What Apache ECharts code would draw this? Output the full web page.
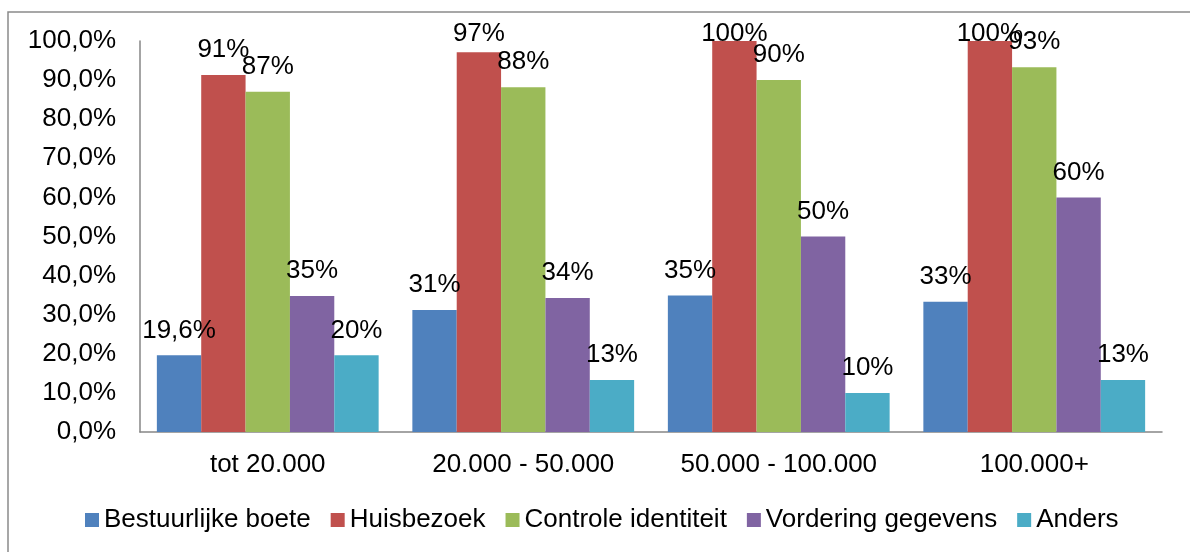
<!DOCTYPE html>
<html>
<head>
<meta charset="utf-8">
<style>
  html, body { margin: 0; padding: 0; background: #fff; }
  #chart { width: 1190px; height: 552px; }
</style>
<script src="https://cdn.jsdelivr.net/npm/echarts@6/dist/echarts.min.js"></script>
</head>
<body>
<div id="chart"></div>
<script>
var categories = ['tot 20.000', '20.000 - 50.000', '50.000 - 100.000', '100.000+'];
var seriesNames = ['Bestuurlijke boete', 'Huisbezoek', 'Controle identiteit', 'Vordering gegevens', 'Anders'];
var bestuurlijkeBoete = [19.6, 31.2, 34.9, 33.3];
var huisbezoek = [91.3, 97.1, 100, 100];
var controleIdentiteit = [87.0, 88.2, 90.0, 93.3];
var vorderingGegevens = [34.8, 34.3, 50.0, 60.0];
var anders = [19.6, 13.3, 10.0, 13.3];
var labelsBestuurlijke = ['19,6%', '31%', '35%', '33%'];
var labelsHuisbezoek = ['91%', '97%', '100%', '100%'];
var labelsControle = ['87%', '88%', '90%', '93%'];
var labelsVordering = ['35%', '34%', '50%', '60%'];
var labelsAnders = ['20%', '13%', '10%', '13%'];
var yTickValues = [0, 10, 20, 30, 40, 50, 60, 70, 80, 90, 100];

var colors = ['#4F81BD', '#C0504D', '#9BBB59', '#8064A2', '#4BACC6'];
var allValues = [bestuurlijkeBoete, huisbezoek, controleIdentiteit, vorderingGegevens, anders];
var allLabels = [labelsBestuurlijke, labelsHuisbezoek, labelsControle, labelsVordering, labelsAnders];
var FONT = '"Liberation Sans", Arial, sans-serif';
var MIN_LABEL_TOP = 21;

var series = seriesNames.map(function (name, i) {
  return {
    name: name,
    type: 'bar',
    data: allValues[i],
    barGap: '0%',
    barCategoryGap: '13.2%',
    itemStyle: { color: colors[i] },
    label: {
      show: true,
      position: 'top',
      distance: 12,
      color: '#000',
      fontFamily: FONT,
      fontSize: 26,
      formatter: function (p) { return allLabels[i][p.dataIndex]; }
    },
    labelLayout: function (p) {
      var r = p.labelRect;
      if (r.y < MIN_LABEL_TOP) { return { dy: MIN_LABEL_TOP - r.y }; }
      return {};
    }
  };
});

var chart = echarts.init(document.getElementById('chart'), null, { renderer: 'canvas' });
chart.setOption({
  animation: false,
  backgroundColor: '#fff',
  color: colors,
  graphic: [{
    type: 'rect',
    shape: { x: 8, y: 12, width: 1300, height: 700 },
    style: { fill: 'none', stroke: '#8a8a8a', lineWidth: 1.5 },
    silent: true,
    z: -10
  }],
  grid: { left: 140, top: 41, right: 28, bottom: 120, containLabel: false },
  legend: {
    data: seriesNames,
    left: 80,
    top: 502,
    itemWidth: 14,
    itemHeight: 14,
    itemGap: 20,
    icon: 'rect',
    textStyle: { fontFamily: FONT, fontSize: 26, color: '#000' }
  },
  xAxis: {
    type: 'category',
    data: categories,
    axisLine: { lineStyle: { color: '#868686', width: 1.5 } },
    axisTick: { show: false },
    axisLabel: { color: '#000', fontFamily: FONT, fontSize: 26, margin: 20, interval: 0 }
  },
  yAxis: {
    type: 'value',
    min: 0,
    max: 100,
    interval: 10,
    axisLine: { show: true, lineStyle: { color: '#868686', width: 1.5 } },
    axisTick: { show: false },
    splitLine: { show: false },
    axisLabel: {
      color: '#000', fontFamily: FONT, fontSize: 26, margin: 24,
      formatter: function (v) { return yTickValues.indexOf(v) >= 0 ? v.toFixed(1).replace('.', ',') + '%' : ''; }
    }
  },
  series: series
});
</script>
</body>
</html>
